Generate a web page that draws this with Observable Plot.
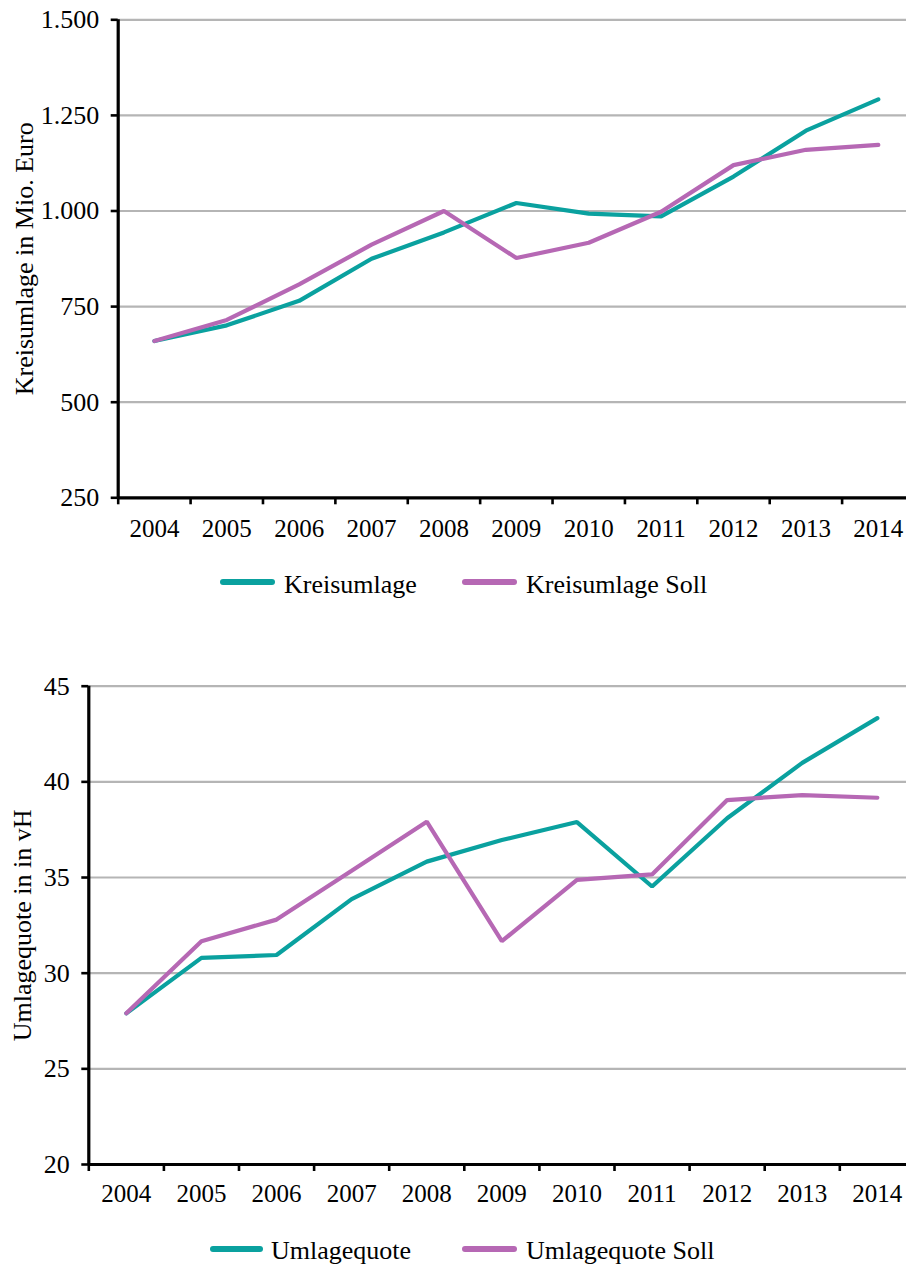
<!DOCTYPE html>
<html><head><meta charset="utf-8">
<script src="https://cdn.jsdelivr.net/npm/d3@7"></script>
<script src="https://cdn.jsdelivr.net/npm/@observablehq/plot@0.6"></script>
<style>
html,body{margin:0;padding:0;background:#fff;overflow:hidden;}
#wrap{position:relative;width:906px;height:1266px;font-family:"Liberation Serif",serif;}
.chart{position:absolute;left:0;}
.leg-line{position:absolute;height:6px;border-radius:3px;}
.leg-text{position:absolute;font-size:26px;line-height:26px;white-space:nowrap;color:#000;}
</style></head><body><div id="wrap"></div>
<script>
const years = [2004, 2005, 2006, 2007, 2008, 2009, 2010, 2011, 2012, 2013, 2014];
const kreisumlage = [660, 701, 765, 875, 944, 1021, 993, 986, 1090, 1210, 1292];
const kreisumlageSoll = [660, 715, 808, 912, 1000, 877, 917, 998, 1120, 1160, 1173];
const umlagequote = [27.9, 30.8, 30.95, 33.87, 35.83, 36.96, 37.9, 34.53, 38.1, 40.99, 43.33];
const umlagequoteSoll = [27.9, 31.67, 32.8, 35.35, 37.92, 31.67, 34.88, 35.16, 39.05, 39.31, 39.17];
const yTicksTop = [250, 500, 750, 1000, 1250, 1500];
const yTicksBottom = [20, 25, 30, 35, 40, 45];
const seriesNamesTop = ["Kreisumlage", "Kreisumlage Soll"];
const seriesNamesBottom = ["Umlagequote", "Umlagequote Soll"];
const titleTop = "Kreisumlage in Mio. Euro";
const titleBottom = "Umlagequote in in vH";
const seriesColors = ["#0aa19f", "#b668b4"];

const de = d3.formatLocale({decimal: ",", thousands: ".", grouping: [3], currency: ["", " €"]});
const fmtThousands = de.format(",");
const boundaries = years.map(y => y - 0.5);

function makeChart(o) {
  const data = [];
  years.forEach((yr, i) => data.push({year: yr, value: o.a[i], series: o.names[0]}));
  years.forEach((yr, i) => data.push({year: yr, value: o.b[i], series: o.names[1]}));
  const svg = Plot.plot({
    width: 906,
    height: o.height,
    marginLeft: o.xRange[0],
    marginRight: 0,
    marginTop: o.yRange[1],
    marginBottom: o.height - o.yRange[0],
    style: {fontFamily: '"Liberation Serif", serif', background: "transparent", color: "#000"},
    x: {type: "linear", domain: [years[0] - 0.5, years[years.length - 1] + 0.5], range: o.xRange},
    y: {domain: [o.yTicks[0], o.yTicks[o.yTicks.length - 1]], range: o.yRange},
    color: {domain: o.names, range: seriesColors},
    marks: [
      Plot.ruleY(o.yTicks.slice(1), {stroke: "#b5b5b5", strokeWidth: 2.2}),
      Plot.line(data, {x: "year", y: "value", stroke: "series", z: "series", strokeWidth: 4.2, strokeLinejoin: "miter"}),
      Plot.ruleY([o.yTicks[0]], {stroke: "#000", strokeWidth: 3.2}),
      Plot.ruleX([years[0] - 0.5], {stroke: "#000", strokeWidth: 3.2}),
      Plot.axisY({ticks: o.yTicks, tickSize: 7, tickPadding: 12, tickFormat: o.fmt, fontSize: 26, strokeWidth: 2.6, label: null}),
      Plot.axisX({ticks: boundaries, tickSize: 7, tickFormat: () => "", strokeWidth: 2.6, label: null}),
      Plot.axisX({ticks: years, tickSize: 0, tickPadding: o.labelPad, tickFormat: d => String(d), fontSize: 25, label: null}),
      Plot.text([o.title], {frameAnchor: "left", rotate: -90, dx: o.titleDx, fontSize: 26, textAnchor: "middle"})
    ]
  });
  svg.classList.add("chart");
  svg.style.top = o.top + "px";
  return svg;
}

const wrap = document.getElementById("wrap");
wrap.appendChild(makeChart({
  a: kreisumlage, b: kreisumlageSoll, names: seriesNamesTop,
  yTicks: yTicksTop, fmt: fmtThousands, height: 555, top: 0,
  xRange: [117.7, 914], yRange: [497.3, 19.3], labelPad: 21,
  title: titleTop, titleDx: -94
}));
wrap.appendChild(makeChart({
  a: umlagequote, b: umlagequoteSoll, names: seriesNamesBottom,
  yTicks: yTicksBottom, fmt: d => String(d), height: 585, top: 640,
  xRange: [88.3, 914.4], yRange: [524, 45.7], labelPad: 20,
  title: titleBottom, titleDx: -66
}));

function legend(items) {
  items.forEach(it => {
    const l = document.createElement("div");
    l.className = "leg-line";
    l.style.left = it.lx + "px";
    l.style.width = it.lw + "px";
    l.style.top = it.ly + "px";
    l.style.background = it.color;
    wrap.appendChild(l);
    const t = document.createElement("div");
    t.className = "leg-text";
    t.style.left = it.tx + "px";
    t.style.top = it.ty + "px";
    t.textContent = it.name;
    wrap.appendChild(t);
  });
}
legend([
  {name: seriesNamesTop[0], color: seriesColors[0], lx: 220, lw: 55, ly: 579, tx: 284, ty: 572},
  {name: seriesNamesTop[1], color: seriesColors[1], lx: 462, lw: 55, ly: 579, tx: 526, ty: 572}
]);
legend([
  {name: seriesNamesBottom[0], color: seriesColors[0], lx: 210, lw: 53, ly: 1246, tx: 271, ty: 1238},
  {name: seriesNamesBottom[1], color: seriesColors[1], lx: 462, lw: 55, ly: 1246, tx: 526, ty: 1238}
]);
</script></body></html>
